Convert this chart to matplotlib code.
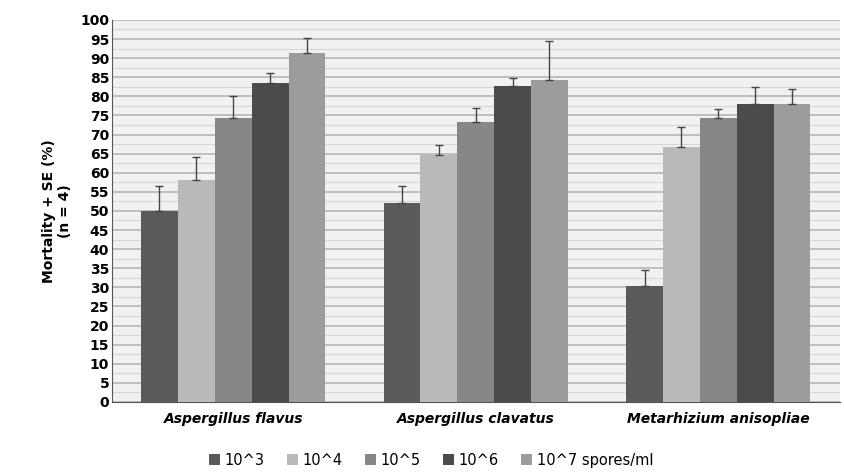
import matplotlib
matplotlib.use("Agg")
import matplotlib.pyplot as plt
import numpy as np

categories = ["Aspergillus flavus", "Aspergillus clavatus", "Metarhizium anisopliae"]
series_labels = ["10^3", "10^4", "10^5", "10^6", "10^7 spores/ml"]
means = [
    [50.0, 52.0, 30.4],
    [58.0, 64.7, 66.8],
    [74.3, 73.3, 74.3],
    [83.5, 82.7, 78.0],
    [91.4, 84.3, 78.0],
]
errors = [
    [6.5, 4.5, 4.2],
    [6.0, 2.6, 5.2],
    [5.7, 3.7, 2.4],
    [2.5, 2.1, 4.5],
    [3.9, 10.2, 4.0],
]
colors = ["#5a5a5a", "#b9b9b9", "#878787", "#4b4b4b", "#9c9c9c"]
yticks = list(range(0, 101, 5))

fig = plt.figure(figsize=(8.45, 4.74), dpi=100)
ax = fig.add_axes([0.1325, 0.152, 0.861, 0.806])
ax.set_facecolor("#f1f1f1")

x = np.arange(len(categories))
w = 0.152
for i, (m, e, c, lab) in enumerate(zip(means, errors, colors, series_labels)):
    pos = x + (i - 2) * w
    ax.bar(pos, m, width=w, color=c, label=lab, zorder=3)
    ax.errorbar(pos, m, yerr=[np.zeros(len(e)), e], fmt="none", ecolor="#444444",
                elinewidth=1, capsize=3, capthick=1, zorder=4)

ax.set_xlim(-0.5, 2.5)
ax.set_ylim(0, 100)
ax.set_yticks(yticks)
ax.set_yticklabels([str(t) for t in yticks], fontsize=10, fontweight="bold")
ax.set_yticks(np.arange(2.5, 100, 5), minor=True)
ax.grid(axis="y", which="major", color="#b5b5b5", linewidth=1.2, zorder=0)
ax.grid(axis="y", which="minor", color="#d6d6d6", linewidth=0.8, zorder=0)
ax.tick_params(axis="y", which="both", length=0, pad=2)
ax.set_xticks(x)
ax.set_xticklabels(categories, fontsize=10, fontstyle="italic", fontweight="bold")
ax.tick_params(axis="x", length=0, pad=7)
for s in ["top", "right"]:
    ax.spines[s].set_visible(False)
ax.spines["left"].set_color("#555555")
ax.spines["bottom"].set_color("#555555")
ax.set_ylabel("Mortality + SE (%)\n(n = 4)", fontsize=10, fontweight="bold", labelpad=6)

fig.legend(loc="lower center", bbox_to_anchor=(0.51, -0.015), ncol=5, frameon=False,
           fontsize=10.5, handlelength=0.8, handleheight=0.8, handletextpad=0.3,
           columnspacing=1.5)

fig.savefig("out.png", dpi=100, facecolor="white")
